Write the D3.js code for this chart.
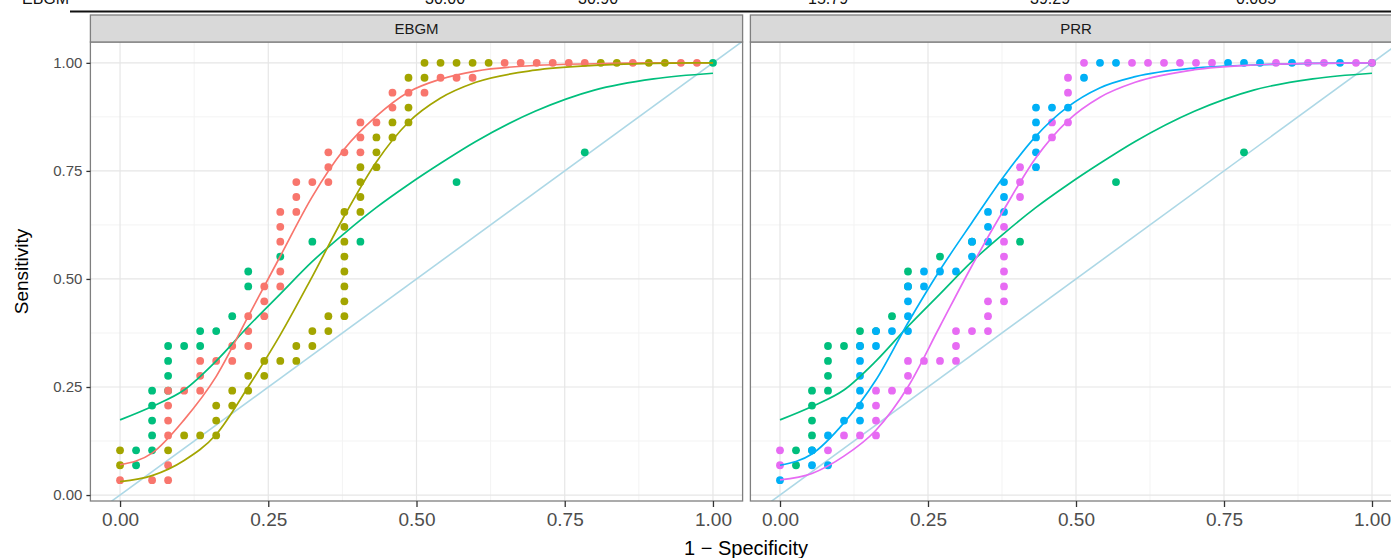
<!DOCTYPE html>
<html>
<head>
<meta charset="utf-8">
<script src="https://cdn.jsdelivr.net/npm/d3@7"></script>
<style>
  body { margin: 0; background: #fff; }
  svg { display: block; }
  text { font-family: "Liberation Sans", Arial, Helvetica, sans-serif; }
</style>
</head>
<body>
<svg id="chart" width="1391" height="558"></svg>
<script>
// ---- data -----------------------------------------------------------
// Empirical ROC points are stored as counts: false positives (of NEG)
// and true positives (of POS). Each row is [truePositives, [falsePositives...]].
const NEG = 37, POS = 29;

const panels = ["EBGM", "PRR"];
const xTicks = [0, 0.25, 0.5, 0.75, 1];
const yTicks = [0, 0.25, 0.5, 0.75, 1];
const tickLabels = ["0.00", "0.25", "0.50", "0.75", "1.00"];

const greenPts = [[2,[1]],[3,[1,2]],[4,[2]],[5,[2]],[6,[2]],[7,[2,3]],[8,[3]],[9,[3]],
  [10,[3,4,5]],[11,[5,6]],[12,[7]],[14,[8]],[15,[8]],[16,[10]],[17,[12,15]],
  [21,[21]],[23,[29]],[29,[37]]];

const redPts = [[1,[0,2,3]],[2,[3]],[4,[3]],[5,[3]],[6,[3]],[7,[3,4,5]],[8,[5]],
  [9,[5,6,7]],[10,[7,8]],[11,[8]],[12,[8,9]],[13,[9]],[14,[9,10]],[15,[10]],
  [17,[10]],[18,[10]],[19,[10,11]],[20,[11]],[21,[11,12,13]],[22,[13]],
  [23,[13,14,15]],[24,[15]],[25,[15,16]],[26,[17]],[27,[17,18,19]],[28,[20,21,22]],
  [29,[24,25,26,27,28,29,32,35,36]]];

const olivePts = [[2,[0]],[3,[0,3]],[4,[4,5,6]],[5,[6]],[6,[6,7]],[7,[7,8]],[8,[8,9]],
  [9,[9,10,11]],[10,[11,12]],[11,[12,13]],[12,[13,14]],[13,[14]],[14,[14]],[15,[14]],
  [16,[14]],[17,[14]],[18,[14]],[19,[14,15]],[20,[15]],[21,[15]],[22,[15,16]],
  [23,[16]],[24,[16,17]],[25,[17,18]],[26,[18]],[28,[18,19]],
  [29,[19,20,21,22,23,30,31,33,34]]];

const bluePts = [[1,[0]],[2,[2,3]],[3,[2]],[4,[3]],[5,[4,5]],[6,[5]],[7,[5]],[8,[5]],
  [9,[5]],[10,[5,6]],[11,[6,7,8]],[12,[8]],[13,[8]],[14,[8,9]],[15,[9,10,11]],
  [16,[12]],[17,[12,13]],[18,[13]],[19,[13,14]],[20,[14]],[21,[14]],[22,[16]],
  [23,[16]],[24,[16]],[25,[16]],[26,[16,17,18]],[28,[19]],
  [29,[20,21,28,29,30,32,35]]];

const magentaPts = [[2,[0]],[3,[0,3]],[4,[4,5,6]],[5,[6]],[6,[6]],[7,[6,7,8]],[8,[8]],
  [9,[8,9,10,11]],[10,[11]],[11,[11,12,13]],[12,[13]],[13,[13,14]],[14,[14]],
  [15,[14]],[16,[14]],[17,[14]],[18,[14]],[20,[15]],[21,[15]],[22,[15]],[24,[17]],
  [25,[17,18]],[27,[18]],[28,[18]],[29,[19,22,23,24,25,26,27,31,33,34,36,37]]];

// Fitted smooth ROC curves, sampled at curveX
const curveX     = [0, 0.054, 0.108, 0.162, 0.216, 0.27, 0.324, 0.378, 0.432, 0.486, 0.54, 0.6, 0.7, 0.8, 0.9, 1.0];
const greenFit   = [0.174, 0.205, 0.243, 0.31, 0.39, 0.465, 0.54, 0.605, 0.665, 0.718, 0.767, 0.818, 0.888, 0.937, 0.963, 0.976];
const redFit     = [0.07, 0.097, 0.174, 0.274, 0.413, 0.552, 0.69, 0.80, 0.876, 0.932, 0.962, 0.981, 0.994, 0.998, 1.0, 1.0];
const oliveFit   = [0.031, 0.045, 0.08, 0.14, 0.25, 0.37, 0.505, 0.645, 0.77, 0.862, 0.918, 0.955, 0.983, 0.994, 0.999, 1.0];
const blueFit    = [0.069, 0.095, 0.167, 0.266, 0.398, 0.52, 0.63, 0.737, 0.83, 0.898, 0.942, 0.968, 0.988, 0.995, 0.999, 1.0];
const magentaFit = [0.035, 0.05, 0.09, 0.15, 0.25, 0.39, 0.53, 0.66, 0.78, 0.866, 0.92, 0.955, 0.984, 0.995, 0.999, 1.0];

// Column values of the cut-off table row above the figure
const headerCells = ["EBGM", "30.00", "30.90", "15.79", "39.29", "0.085"];

// ---- styling / layout -----------------------------------------------
const COL = { red: "#F8766D", olive: "#A3A500", green: "#00BF7D", blue: "#00B0F6", magenta: "#E76BF3" };

const panelSeries = {
  EBGM: [
    { pts: greenPts, fit: greenFit, color: COL.green },
    { pts: redPts, fit: redFit, color: COL.red },
    { pts: olivePts, fit: oliveFit, color: COL.olive }
  ],
  PRR: [
    { pts: greenPts, fit: greenFit, color: COL.green },
    { pts: bluePts, fit: blueFit, color: COL.blue },
    { pts: magentaPts, fit: magentaFit, color: COL.magenta }
  ]
};

const svg = d3.select("#chart");
const W = 1391, H = 558;

const panelTop = 42, panelBottom = 501;
const stripTop = 15;
const panelX = [[90.4, 742.6], [750.4, 1401.6]];

const flatten = rows => rows.flatMap(([tp, fps]) => fps.map(fp => ({ x: fp / NEG, y: tp / POS })));

// y domain: data range plus 5% expansion
const yMin = 1 / POS, yMax = 1;
const yPad = (yMax - yMin) * 0.05;
const y = d3.scaleLinear().domain([yMin - yPad, yMax + yPad]).range([panelBottom, panelTop]);

// cut-off header row
const headerX = [22, 425, 578, 808, 1030, 1236];
svg.selectAll("text.hdr").data(headerCells).join("text")
  .attr("class", "hdr")
  .attr("x", (d, i) => headerX[i]).attr("y", 4)
  .attr("font-size", 16).attr("fill", "#111").text(d => d);
svg.append("line").attr("x1", 70).attr("x2", W).attr("y1", 11.5).attr("y2", 11.5)
  .attr("stroke", "#111").attr("stroke-width", 2);

const defs = svg.append("defs");

panels.forEach((name, pi) => {
  const [x0, x1] = panelX[pi];
  const x = d3.scaleLinear().domain([-0.05, 1.05]).range([x0, x1]);
  const g = svg.append("g");

  defs.append("clipPath").attr("id", "clip" + pi)
    .append("rect").attr("x", x0).attr("y", panelTop).attr("width", x1 - x0).attr("height", panelBottom - panelTop);

  // panel background
  g.append("rect").attr("x", x0).attr("y", panelTop).attr("width", x1 - x0).attr("height", panelBottom - panelTop)
    .attr("fill", "#fff");

  // minor grid
  const minor = [0.125, 0.375, 0.625, 0.875];
  g.append("g").selectAll("line").data(minor).join("line")
    .attr("x1", d => x(d)).attr("x2", d => x(d)).attr("y1", panelTop).attr("y2", panelBottom)
    .attr("stroke", "#f3f3f3").attr("stroke-width", 1);
  g.append("g").selectAll("line").data(minor).join("line")
    .attr("y1", d => y(d)).attr("y2", d => y(d)).attr("x1", x0).attr("x2", x1)
    .attr("stroke", "#f3f3f3").attr("stroke-width", 1);
  // major grid
  g.append("g").selectAll("line").data(xTicks).join("line")
    .attr("x1", d => x(d)).attr("x2", d => x(d)).attr("y1", panelTop).attr("y2", panelBottom)
    .attr("stroke", "#e6e6e6").attr("stroke-width", 1.2);
  g.append("g").selectAll("line").data(yTicks).join("line")
    .attr("y1", d => y(d)).attr("y2", d => y(d)).attr("x1", x0).attr("x2", x1)
    .attr("stroke", "#e6e6e6").attr("stroke-width", 1.2);

  const plot = g.append("g").attr("clip-path", `url(#clip${pi})`);

  // chance diagonal
  plot.append("line")
    .attr("x1", x(-0.05)).attr("y1", y(-0.05)).attr("x2", x(1.05)).attr("y2", y(1.05))
    .attr("stroke", "#ADD8E6").attr("stroke-width", 1.6);

  const line = d3.line().x(d => x(d[0])).y(d => y(d[1])).curve(d3.curveMonotoneX);
  const series = panelSeries[name];

  // points
  series.forEach(s => {
    plot.append("g").selectAll("circle").data(flatten(s.pts)).join("circle")
      .attr("cx", d => x(d.x)).attr("cy", d => y(d.y)).attr("r", 3.9)
      .attr("fill", s.color);
  });
  // fitted curves
  series.forEach(s => {
    plot.append("path").datum(curveX.map((cx, i) => [cx, s.fit[i]]))
      .attr("d", line).attr("fill", "none").attr("stroke", s.color).attr("stroke-width", 1.7);
  });

  // panel border
  g.append("rect").attr("x", x0).attr("y", panelTop).attr("width", x1 - x0).attr("height", panelBottom - panelTop)
    .attr("fill", "none").attr("stroke", "#7f7f7f").attr("stroke-width", 1.3);

  // strip
  g.append("rect").attr("x", x0).attr("y", stripTop).attr("width", x1 - x0).attr("height", panelTop - stripTop)
    .attr("fill", "#d9d9d9").attr("stroke", "#7f7f7f").attr("stroke-width", 1.3);
  g.append("text").attr("x", (x0 + x1) / 2).attr("y", (stripTop + panelTop) / 2 + 5.5)
    .attr("text-anchor", "middle").attr("font-size", 15).attr("fill", "#1a1a1a").text(name);

  // x axis
  const xAxis = d3.axisBottom(x).tickValues(xTicks).tickFormat((d, i) => tickLabels[i]).tickSizeOuter(0).tickSize(6).tickPadding(6);
  const xa = g.append("g").attr("transform", `translate(0,${panelBottom})`).call(xAxis);
  xa.select(".domain").remove();
  xa.selectAll(".tick line").attr("stroke", "#333").attr("stroke-width", 1.3);
  xa.selectAll(".tick text").attr("font-size", 19).attr("fill", "#4d4d4d")
    .attr("font-family", "'Liberation Sans', Arial, sans-serif");

  // y axis only on the first panel
  if (pi === 0) {
    const yAxis = d3.axisLeft(y).tickValues(yTicks).tickFormat((d, i) => tickLabels[i]).tickSizeOuter(0).tickSize(4).tickPadding(4);
    const ya = g.append("g").attr("transform", `translate(${x0},0)`).call(yAxis);
    ya.select(".domain").remove();
    ya.selectAll(".tick line").attr("stroke", "#333").attr("stroke-width", 1.3);
    ya.selectAll(".tick text").attr("font-size", 15).attr("fill", "#4d4d4d")
      .attr("font-family", "'Liberation Sans', Arial, sans-serif");
  }
});

// axis titles
svg.append("text").attr("transform", `translate(28,${(panelTop + panelBottom) / 2}) rotate(-90)`)
  .attr("text-anchor", "middle").attr("font-size", 19).attr("fill", "#000").text("Sensitivity");
svg.append("text").attr("x", (panelX[0][0] + panelX[1][1]) / 2).attr("y", 555)
  .attr("text-anchor", "middle").attr("font-size", 20).attr("fill", "#000").text("1 \u2212 Specificity");
</script>
</body>
</html>
